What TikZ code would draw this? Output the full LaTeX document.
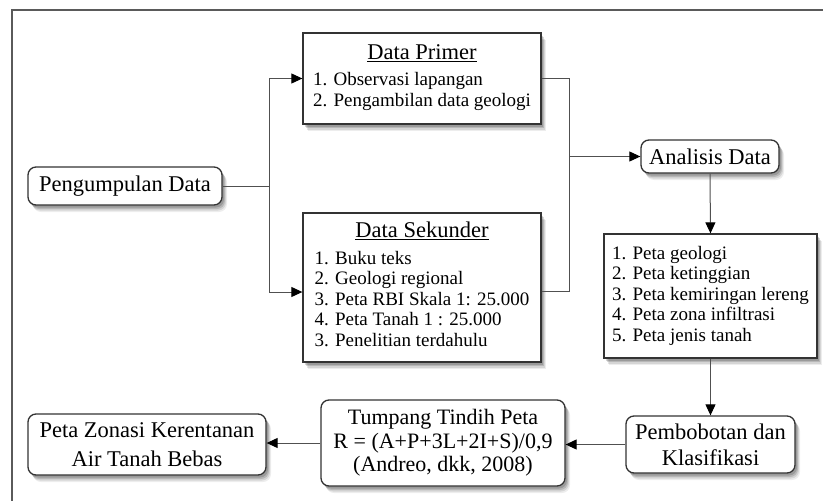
\documentclass[tikz,border=0pt]{standalone}
\usepackage{fontspec}
\setmainfont{Liberation Serif}
\usetikzlibrary{arrows.meta,shadows,calc}
\definecolor{framec}{HTML}{5A5A5A}
\definecolor{bordc}{HTML}{333333}
\definecolor{connc}{HTML}{505050}
\newcommand\bigfnt{\fontsize{22.5}{29}\selectfont}
\newcommand\smallfnt{\fontsize{19}{20.5}\selectfont}
\begin{document}
\begin{tikzpicture}[x=1pt,y=-1pt,
  box/.style={draw=bordc, line width=1.3pt, fill=white, inner sep=0pt,
    drop shadow={shadow xshift=5pt, shadow yshift=-7pt, opacity=0.07, fill=black},
    drop shadow={shadow xshift=4pt, shadow yshift=-5.5pt, opacity=0.1, fill=black},
    drop shadow={shadow xshift=3pt, shadow yshift=-4pt, opacity=0.14, fill=black},
    drop shadow={shadow xshift=2pt, shadow yshift=-2.5pt, opacity=0.16, fill=black}},
  rbox/.style={box, rounded corners=8pt, align=center, font=\bigfnt},
  lbox/.style={box, font=\smallfnt},
  conn/.style={draw=connc, line width=1pt},
  arr/.style={conn, -{Triangle[length=11pt,width=10pt,color=black]}}]
\useasboundingbox (0,0) rectangle (823,501);
\draw[draw=framec, line width=2pt] (11.5,501) -- (11.5,9.5) -- (823,9.5);

\node[rbox, minimum width=194, minimum height=38] (pd) at (125,186) {Pengumpulan Data};
\node[lbox, minimum width=238, minimum height=91] (primer) at (422,78.5)
  {\begin{tabular}{@{}l@{}}\multicolumn{1}{@{}c@{}}{\bigfnt\underline{Data Primer}}\\[6pt]
   1. Observasi lapangan\\ 2. Pengambilan data geologi\end{tabular}};
\node[lbox, minimum width=238, minimum height=149] (sek) at (422,287.5)
  {\begin{tabular}{@{}l@{}}\multicolumn{1}{@{}c@{}}{\bigfnt\underline{Data Sekunder}}\\[6pt]
   1. Buku teks\\ 2. Geologi regional\\ 3. Peta RBI Skala 1: 25.000\\
   4. Peta Tanah 1 : 25.000\\ 3. Penelitian terdahulu\end{tabular}};
\node[rbox, minimum width=138, minimum height=33] (ana) at (710,156.5) {Analisis Data};
\node[lbox, minimum width=213, minimum height=124] (peta) at (710.5,296)
  {\begin{tabular}{@{}l@{}}1. Peta geologi\\ 2. Peta ketinggian\\ 3. Peta kemiringan lereng\\
   4. Peta zona infiltrasi\\ 5. Peta jenis tanah\end{tabular}};
\node[rbox, minimum width=169, minimum height=57, font=\fontsize{22.5}{26}\selectfont] (pem) at (710.5,444.5)
  {Pembobotan dan\\ Klasifikasi};
\node[rbox, minimum width=244, minimum height=86, font=\fontsize{22}{23.5}\selectfont] (tum) at (443,443)
  {Tumpang Tindih Peta\\ R = (A+P+3L+2I+S)/0,9\\ (Andreo, dkk, 2008)};
\node[rbox, minimum width=238, minimum height=61] (zon) at (147,444.5)
  {Peta Zonasi Kerentanan\\ Air Tanah Bebas};

\coordinate (j1) at (269,186);
\coordinate (j2) at (569,156.5);
\draw[conn] (pd.east) -- (j1);
\draw[arr] (j1) |- (primer.west);
\draw[arr] (j1) |- ([yshift=-4.5pt]sek.west);
\draw[conn] (primer.east) -| (j2);
\draw[conn] ([yshift=-3.5pt]sek.east) -| (j2);
\draw[arr] (j2) -- (ana.west);
\draw[arr] (ana.south) -- (peta.north);
\draw[arr] (peta.south) -- (pem.north);
\draw[arr] (pem.west) -- (pem.west -| tum.east);
\draw[arr] (tum.west) -- (tum.west -| zon.east);
\end{tikzpicture}
\end{document}
